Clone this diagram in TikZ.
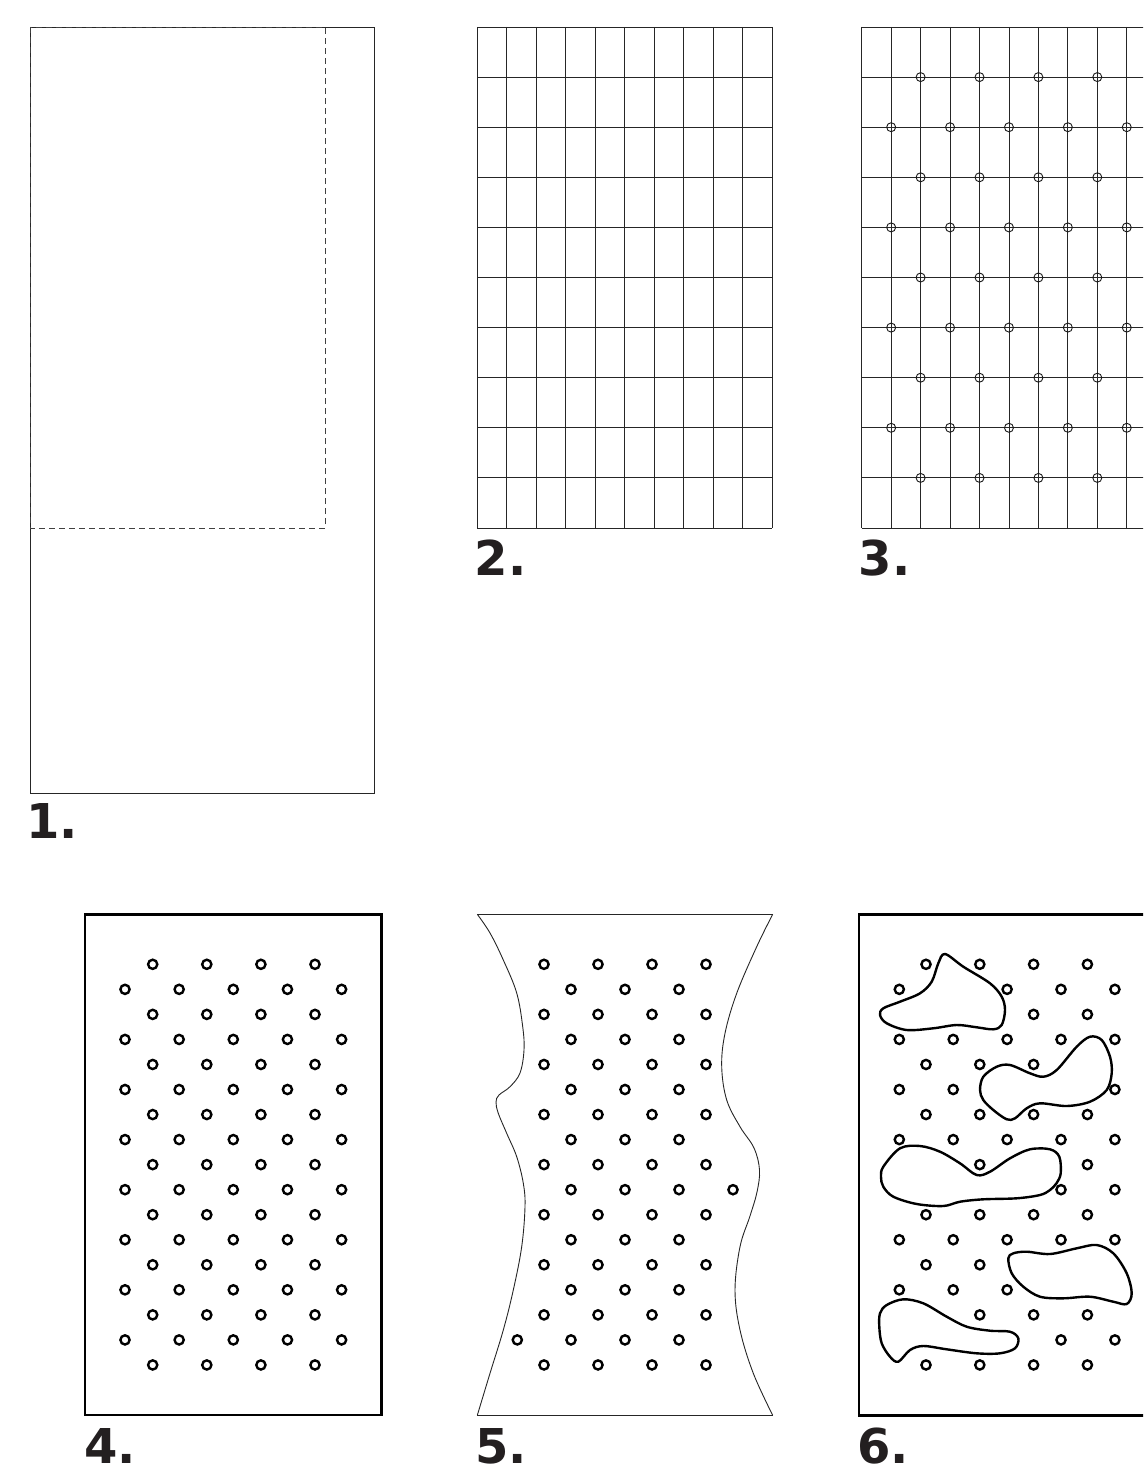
\documentclass[tikz,border=0pt]{standalone}
\usepackage{fontspec}
\setmainfont{DejaVu Sans}
\definecolor{ink}{RGB}{35,31,32}
\begin{document}
\begin{tikzpicture}[x=1pt,y=-1pt,
  thin line/.style={draw=black!85,line width=0.9pt},
  dashline/.style={draw=black!75,line width=0.9pt,dash pattern=on 6pt off 4pt},
  thickframe/.style={draw=black,line width=2.8pt},
  dotc/.style={draw=black,line width=2.4pt},
  pin/.style={draw=black!90,line width=0.9pt},
  blobline/.style={draw=black,line width=2.4pt,fill=white},
  lbl/.style={anchor=base west,inner sep=0pt,text=ink,font=\fontsize{48}{48}\selectfont\bfseries}]
\useasboundingbox (0,0) rectangle (1143,1469);
\clip (0,0) rectangle (1143,1469);

% ---------- Panel 1 ----------
\draw[thin line] (30,27) rectangle (374,793);
\draw[dashline] (30,27) rectangle (325,528);
\node[lbl] (l1) at (26,838) {1.};

% ---------- Panel 2 ----------
\foreach \i in {0,...,10} \draw[thin line] (477+29.5*\i,27) -- (477+29.5*\i,528);
\foreach \j in {0,...,10} \draw[thin line] (477,27+50.1*\j) -- (772,27+50.1*\j);
\node[lbl] (l2) at (474.5,575) {2.};

% ---------- Panel 3 ----------
\foreach \i in {0,...,10} \draw[thin line] (861.7+29.45*\i,27) -- (861.7+29.45*\i,528);
\foreach \j in {0,...,10} \draw[thin line] (861.7,27+50.1*\j) -- (1156.2,27+50.1*\j);
\foreach \j in {1,3,5,7,9} \foreach \i in {2,4,6,8}
  \draw[pin] (861.7+29.45*\i,27+50.1*\j) circle[radius=4.5pt];
\foreach \j in {2,4,6,8} \foreach \i in {1,3,5,7,9}
  \draw[pin] (861.7+29.45*\i,27+50.1*\j) circle[radius=4.5pt];
\node[lbl] (l3) at (858.5,575) {3.};

% ---------- Panel 4 ----------
\draw[thickframe] (85,914.3) rectangle (381.3,1415);
\foreach \k in {0,2,...,16} \foreach \m in {0,...,3}
  \draw[dotc] (152.7+54.1*\m,964.3+25.04*\k) circle[radius=4.6pt];
\foreach \k in {1,3,...,15} \foreach \m in {0,...,4}
  \draw[dotc] (125+54.15*\m,964.3+25.04*\k) circle[radius=4.6pt];
\node[lbl] (l4) at (84,1463) {4.};

% ---------- Panel 5 ----------
\draw[thin line] (477.3,914.3) -- (772.7,914.3);
\draw[thin line] (477.3,1415.3) -- (772.7,1415.3);
\draw[thin line] plot[smooth,tension=0.6] coordinates {
  (772.7,914.3) (756.7,946.7) (736.7,993.3) (725,1033.3) (721.7,1066.7)
  (726.7,1100) (740,1126.7) (754,1148) (759.5,1170) (757,1192)
  (750,1216) (740,1246.7) (735,1290) (740,1330) (753.3,1373.3) (772.7,1415.3)};
\draw[thin line] plot[smooth,tension=0.6] coordinates {
  (477.3,914.3) (490,933) (503.3,960) (516.7,993) (522.7,1026.7) (524,1050)
  (520,1073) (510,1086.7) (499,1095) (496,1102) (498.3,1113.3) (506.7,1133.3)
  (516.7,1156.7) (523.3,1183.3) (525,1206.7) (521.7,1246.7) (513.3,1290)
  (503.3,1330) (490,1373.3) (477.3,1415.3)};
\foreach \k in {0,2,...,16} \foreach \m in {0,...,3}
  \draw[dotc] (544+54*\m,964.3+25.04*\k) circle[radius=4.6pt];
\foreach \k in {1,3,...,15} \foreach \m in {0,...,2}
  \draw[dotc] (571+54*\m,964.3+25.04*\k) circle[radius=4.6pt];
\draw[dotc] (733,1189.7) circle[radius=4.6pt];
\draw[dotc] (517.3,1339.9) circle[radius=4.6pt];
\node[lbl] (l5) at (475,1463) {5.};

% ---------- Panel 6 ----------
\draw[thickframe] (859,914.3) rectangle (1160,1415.3);
\draw[blobline] plot[smooth cycle,tension=0.55] coordinates {
  (945,954) (963.3,966.7) (990,983.3) (1001.7,996.7) (1005,1010) (1001.7,1025)
  (993.3,1029.3) (976.7,1027.3) (956.7,1025) (933.3,1028.3) (906.7,1030)
  (886.7,1023.3) (880,1015) (883.3,1008.3) (900,1001.7) (920,993.3)
  (931.7,981.7) (938.3,963.3)};
\draw[blobline] plot[smooth cycle,tension=0.55] coordinates {
  (980,1090) (983.3,1076.7) (996.7,1066.7) (1010,1065) (1030,1073.3)
  (1043.3,1076.7) (1056.7,1070) (1076.7,1046.7) (1090,1036.7) (1101.7,1040)
  (1110,1056.7) (1111.7,1073.3) (1106.7,1090) (1090,1101.7) (1066.7,1106)
  (1040,1103.3) (1026.7,1108.3) (1015,1118.3) (1006.7,1119.3) (993.3,1110)
  (983.3,1100)};
\draw[blobline] plot[smooth cycle,tension=0.55] coordinates {
  (883.3,1166.7) (900,1148.3) (920,1146) (940,1151.7) (960,1163.3)
  (976.7,1175) (990,1171.7) (1010,1158.3) (1030,1149.3) (1050,1149.3)
  (1059.3,1156.7) (1060.7,1173.3) (1056.7,1183) (1050,1190) (1040,1195)
  (1016.7,1198.3) (983.3,1199.3) (960,1201.7) (943.3,1206) (916.7,1204)
  (893.3,1196.7) (883.3,1186.7) (881,1177)};
\draw[blobline] plot[smooth cycle,tension=0.55] coordinates {
  (1008.3,1258.3) (1013.3,1253.3) (1026.7,1251.7) (1050,1254) (1076.7,1248.3)
  (1096.7,1245) (1113.3,1253.3) (1126.7,1273.3) (1131.7,1293.3) (1126.7,1304)
  (1113.3,1301.7) (1090,1296.7) (1063.3,1298.3) (1040,1296.7) (1023.3,1286.7)
  (1011.7,1273.3)};
\draw[blobline] plot[smooth cycle,tension=0.55] coordinates {
  (880,1313.3) (886.7,1305) (903.3,1299.3) (923.3,1303.3) (946.7,1316.7)
  (966.7,1326.7) (990,1330.7) (1010,1331.7) (1018.3,1338.3) (1015,1348.3)
  (1000,1353.3) (976.7,1353.3) (946.7,1349.3) (923.3,1346) (910,1350)
  (898.3,1361.7) (890,1356.7) (881.7,1343.3) (879.3,1326.7)};
\foreach \k/\m in {0/0,0/1,0/2,0/3, 2/2,2/3, 4/0,4/1,4/2, 6/0,6/1,6/2,6/3,
  8/1,8/3, 10/0,10/1,10/2,10/3, 12/0,12/1, 14/1,14/2,14/3, 16/0,16/1,16/2,16/3}
  \draw[dotc] (926+53.8*\m,964.3+25.04*\k) circle[radius=4.6pt];
\foreach \k/\m in {1/0,1/2,1/3,1/4, 3/0,3/1,3/2,3/3,3/4, 5/0,5/1,5/4,
  7/0,7/1,7/2,7/3,7/4, 9/3,9/4, 11/0,11/1,11/2,11/3,11/4, 13/0,13/1,13/2, 15/3,15/4}
  \draw[dotc] (899.3+53.9*\m,964.3+25.04*\k) circle[radius=4.6pt];
\node[lbl] (l6) at (857,1463) {6.};
\end{tikzpicture}
\end{document}
